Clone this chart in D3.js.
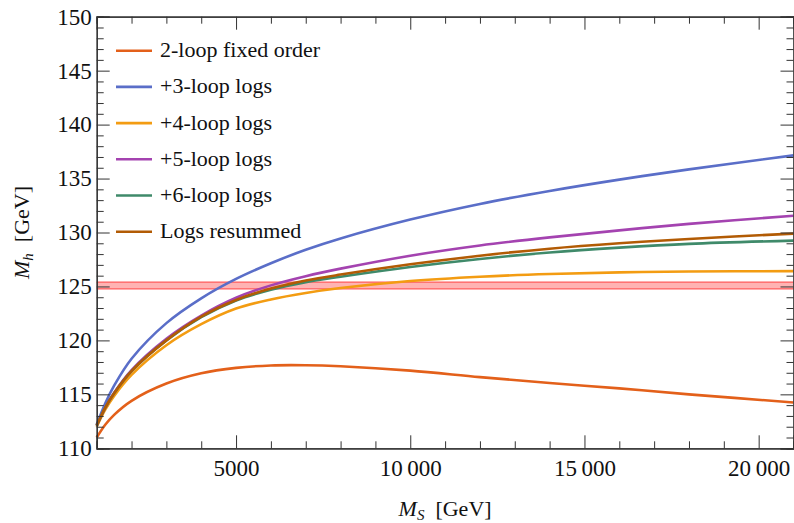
<!DOCTYPE html>
<meta charset="utf-8">
<body style="margin:0;background:#fff">
<script src="https://d3js.org/d3.v7.min.js"></script>
<script>
var width = 794, height = 523;
var margin = {left: 96.7, right: 0.5, top: 16.7, bottom: 74.7};
var serif = "'Liberation Serif'";

var msValues = [1000, 1250, 1500, 2000, 3000, 4000, 5000, 6000, 7000, 8000, 10000, 12000, 14000, 16000, 18000, 21000];

var twoLoop   = [111.0, 112.2, 113.1, 114.4, 116.0, 116.95, 117.45, 117.68, 117.7, 117.6, 117.2, 116.6, 116.05, 115.55, 115.0, 114.25];
var threeLoop = [112.2, 114.2, 115.8, 118.3, 121.6, 123.9, 125.7, 127.15, 128.4, 129.45, 131.2, 132.65, 133.85, 134.9, 135.85, 137.15];
var fourLoop  = [112.0, 113.6, 114.85, 116.8, 119.55, 121.5, 122.95, 123.8, 124.4, 124.85, 125.5, 125.9, 126.15, 126.3, 126.38, 126.42];
var fiveLoop  = [112.1, 113.8, 115.15, 117.25, 120.15, 122.3, 123.95, 125.1, 125.95, 126.65, 127.85, 128.8, 129.55, 130.2, 130.8, 131.55];
var sixLoop   = [112.1, 113.8, 115.1, 117.15, 120.0, 122.15, 123.7, 124.7, 125.4, 125.9, 126.8, 127.55, 128.15, 128.6, 128.95, 129.25];
var resummed  = [112.1, 113.8, 115.1, 117.15, 120.0, 122.2, 123.75, 124.8, 125.55, 126.1, 127.05, 127.85, 128.5, 129.0, 129.4, 129.9];

var seriesNames  = ["2-loop fixed order", "+3-loop logs", "+4-loop logs", "+5-loop logs", "+6-loop logs", "Logs resummed"];
var seriesValues = [twoLoop, threeLoop, fourLoop, fiveLoop, sixLoop, resummed];
var seriesColors = ["#e3601a", "#5a6ec8", "#f39c12", "#a443b0", "#3f8a6a", "#b25b04"];

// measured Higgs mass band
var higgsBand = [124.77, 125.41];

var xTicks = [5000, 10000, 15000, 20000];
var yTicks = [110, 115, 120, 125, 130, 135, 140, 145, 150];

var svg = d3.select("body").append("svg")
  .attr("width", width)
  .attr("height", height);

var x = d3.scaleLinear().domain([1000, 21000]).range([margin.left, width - margin.right]);
var y = d3.scaleLinear().domain([110, 150]).range([height - margin.bottom, margin.top]);

var x0 = x.range()[0], x1 = x.range()[1], y0 = y.range()[0], y1 = y.range()[1];

// band
svg.append("rect")
  .attr("x", x0).attr("width", x1 - x0)
  .attr("y", y(higgsBand[1])).attr("height", y(higgsBand[0]) - y(higgsBand[1]))
  .attr("fill", "#ffb3b3");
higgsBand.forEach(function(v) {
  svg.append("line")
    .attr("x1", x0).attr("x2", x1)
    .attr("y1", y(v)).attr("y2", y(v))
    .attr("stroke", "#ff5c5c").attr("stroke-width", 1.3);
});

// curves
var line = d3.line()
  .x(function(d) { return x(d[0]); })
  .y(function(d) { return y(d[1]); })
  .curve(d3.curveCatmullRom.alpha(0.5));

svg.append("g")
  .selectAll("path")
  .data(seriesValues)
  .enter().append("path")
  .attr("fill", "none")
  .attr("stroke", function(d, i) { return seriesColors[i]; })
  .attr("stroke-width", 2.6)
  .attr("d", function(d) { return line(d.map(function(v, i) { return [msValues[i], v]; })); });

// frame with ticks on all four sides, pointing inward
var fmt = function(d) {
  return d >= 10000 ? Math.floor(d / 1000) + "\u2009" + "000" : String(d);
};
var xMinor = d3.range(1000, 21001, 1000).filter(function(d) { return d % 5000; });
var yMinor = d3.range(110, 151, 1).filter(function(d) { return d % 5; });

var frame = svg.append("g").attr("class", "frame");

frame.append("g").attr("transform", "translate(0," + y0 + ")")
  .call(d3.axisBottom(x).tickValues(xTicks).tickSize(-13).tickPadding(11).tickFormat(fmt));
frame.append("g").attr("transform", "translate(0," + y0 + ")")
  .call(d3.axisBottom(x).tickValues(xMinor).tickSize(-7).tickFormat(""));
frame.append("g").attr("transform", "translate(0," + y1 + ")")
  .call(d3.axisTop(x).tickValues(xTicks).tickSize(-13).tickFormat(""));
frame.append("g").attr("transform", "translate(0," + y1 + ")")
  .call(d3.axisTop(x).tickValues(xMinor).tickSize(-7).tickFormat(""));
frame.append("g").attr("transform", "translate(" + x0 + ",0)")
  .call(d3.axisLeft(y).tickValues(yTicks).tickSize(-13).tickPadding(5).tickFormat(d3.format("d")));
frame.append("g").attr("transform", "translate(" + x0 + ",0)")
  .call(d3.axisLeft(y).tickValues(yMinor).tickSize(-7).tickFormat(""));
frame.append("g").attr("transform", "translate(" + x1 + ",0)")
  .call(d3.axisRight(y).tickValues(yTicks).tickSize(-13).tickFormat(""));
frame.append("g").attr("transform", "translate(" + x1 + ",0)")
  .call(d3.axisRight(y).tickValues(yMinor).tickSize(-7).tickFormat(""));

frame.selectAll("path.domain").attr("stroke", "#333").attr("stroke-width", 1.2);
frame.selectAll(".tick line").attr("stroke", "#333").attr("stroke-width", 1);

frame.selectAll(".tick text")
  .style("font-family", serif)
  .attr("font-size", 23)
  .attr("fill", "#111");

// legend
var legend = svg.append("g");
seriesNames.forEach(function(name, i) {
  var ly = 50.7 + i * 36.2;
  legend.append("line")
    .attr("x1", 116).attr("x2", 152)
    .attr("y1", ly).attr("y2", ly)
    .attr("stroke", seriesColors[i]).attr("stroke-width", 2.6);
  legend.append("text")
    .attr("x", 160).attr("y", ly + 6.5)
    .style("font-family", serif)
    .attr("font-size", 22)
    .attr("fill", "#111")
    .text(name);
});

// axis titles
var xt = svg.append("text")
  .attr("x", (x0 + x1) / 2).attr("y", 516)
  .attr("text-anchor", "middle")
  .style("font-family", serif)
  .attr("font-size", 22)
  .attr("fill", "#111");
xt.append("tspan").attr("font-style", "italic").text("M");
xt.append("tspan").attr("font-style", "italic").attr("font-size", 15).attr("dy", 4).text("S");
xt.append("tspan").attr("dy", -4).text("\u2002[GeV]");

var yt = svg.append("text")
  .attr("transform", "translate(29," + ((y0 + y1) / 2) + ") rotate(-90)")
  .attr("text-anchor", "middle")
  .style("font-family", serif)
  .attr("font-size", 22)
  .attr("fill", "#111");
yt.append("tspan").attr("font-style", "italic").text("M");
yt.append("tspan").attr("font-style", "italic").attr("font-size", 15).attr("dy", 4).text("h");
yt.append("tspan").attr("dy", -4).text("\u2002[GeV]");
</script>
</body>
